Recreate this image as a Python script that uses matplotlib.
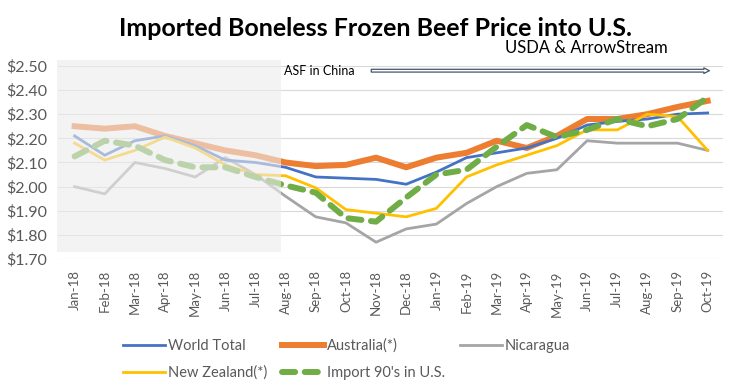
import matplotlib.pyplot as plt
from matplotlib.patches import Rectangle, FancyArrowPatch

plt.rcParams['font.family'] = ['Lato', 'DejaVu Sans']

months = ['Jan-18', 'Feb-18', 'Mar-18', 'Apr-18', 'May-18', 'Jun-18', 'Jul-18',
          'Aug-18', 'Sep-18', 'Oct-18', 'Nov-18', 'Dec-18', 'Jan-19', 'Feb-19',
          'Mar-19', 'Apr-19', 'May-19', 'Jun-19', 'Jul-19', 'Aug-19', 'Sep-19',
          'Oct-19']
world_total = [2.21, 2.13, 2.19, 2.21, 2.17, 2.11, 2.10, 2.08, 2.04, 2.035, 2.03,
               2.01, 2.06, 2.12, 2.14, 2.16, 2.20, 2.255, 2.27, 2.28, 2.30, 2.305]
australia = [2.25, 2.24, 2.25, 2.21, 2.18, 2.15, 2.13, 2.10, 2.085, 2.09, 2.12,
             2.08, 2.12, 2.14, 2.19, 2.16, 2.21, 2.28, 2.28, 2.30, 2.33, 2.355]
nicaragua = [2.00, 1.97, 2.10, 2.075, 2.04, 2.12, 2.05, 1.96, 1.875, 1.85, 1.77,
             1.825, 1.845, 1.93, 2.00, 2.055, 2.07, 2.19, 2.18, 2.18, 2.18, 2.15]
new_zealand = [2.18, 2.11, 2.15, 2.205, 2.16, 2.09, 2.05, 2.045, 1.995, 1.905,
               1.89, 1.875, 1.91, 2.04, 2.09, 2.13, 2.17, 2.235, 2.235, 2.30,
               2.29, 2.15]
import_90s = [2.125, 2.19, 2.17, 2.11, 2.08, 2.08, 2.04, 2.005, 1.975, 1.87, 1.855,
              1.955, 2.05, 2.07, 2.165, 2.255, 2.205, 2.235, 2.28, 2.25, 2.28,
              2.37]
y_ticks = [1.70, 1.80, 1.90, 2.00, 2.10, 2.20, 2.30, 2.40, 2.50]

fig = plt.figure(figsize=(7.39, 3.92), dpi=100)
ax = fig.add_axes([0.0785, 0.339, 0.8995, 0.493])
x = list(range(len(months)))

l_world, = ax.plot(x, world_total, color='#4472C4', lw=2.0, label='World Total', zorder=3)
l_aus, = ax.plot(x, australia, color='#ED7D31', lw=4.3, label='Australia(*)', zorder=2)
l_nic, = ax.plot(x, nicaragua, color='#A5A5A5', lw=2.0, label='Nicaragua', zorder=2)
l_nz, = ax.plot(x, new_zealand, color='#FFC000', lw=2.0, label='New Zealand(*)', zorder=3)
l_imp, = ax.plot(x, import_90s, color='#70AD47', lw=4.3, ls=(0, (2.2, 1.6)),
                 dash_capstyle='round', label="Import 90's in U.S.", zorder=4)

# faded box over the first months
ax.add_patch(Rectangle((-0.6, 1.73), 7.45, 0.795, facecolor='#eeecee', alpha=0.6,
                       edgecolor='none', zorder=5, clip_on=False))

# ASF annotation with arrow
ax.text(6.95, 2.48, 'ASF in China', fontsize=9, va='center', ha='left', zorder=6)
ax.add_patch(FancyArrowPatch((9.75, 2.48), (21.15, 2.48),
                             arrowstyle='simple,head_length=4,head_width=4,tail_width=2',
                             facecolor='white', edgecolor='#44546A', lw=0.9, zorder=6))

ax.set_xlim(-0.55, 21.5)
ax.set_ylim(1.70, 2.50)
ax.set_yticks(y_ticks)
ax.set_yticklabels(['$%.2f' % v for v in y_ticks])
ax.set_xticks(x)
ax.set_xticklabels(months, rotation=90)
ax.tick_params(axis='both', length=0, colors='#595959')
ax.tick_params(axis='y', pad=8, labelsize=11.5)
ax.tick_params(axis='x', pad=8, labelsize=9.5)
ax.grid(axis='y', color='#D9D9D9', lw=0.8)
ax.set_axisbelow(True)
for s in ax.spines.values():
    s.set_visible(False)

fig.text(0.508, 0.928, 'Imported Boneless Frozen Beef Price into U.S.', ha='center',
         va='center', fontsize=18, fontweight='bold')
fig.text(0.793, 0.878, 'USDA & ArrowStream', ha='center', va='center', fontsize=12)

fig.legend([l_world, l_nz, l_aus, l_imp, l_nic],
           ['World Total', 'New Zealand(*)', 'Australia(*)', "Import 90's in U.S.", 'Nicaragua'],
           ncol=3, loc='upper left', bbox_to_anchor=(0.166, 0.137), frameon=False,
           fontsize=10.5, handlelength=2.9, columnspacing=1.0, labelcolor='#595959',
           handletextpad=0.2, labelspacing=0.9, borderpad=0, borderaxespad=0)

fig.savefig('out.png', dpi=100)
